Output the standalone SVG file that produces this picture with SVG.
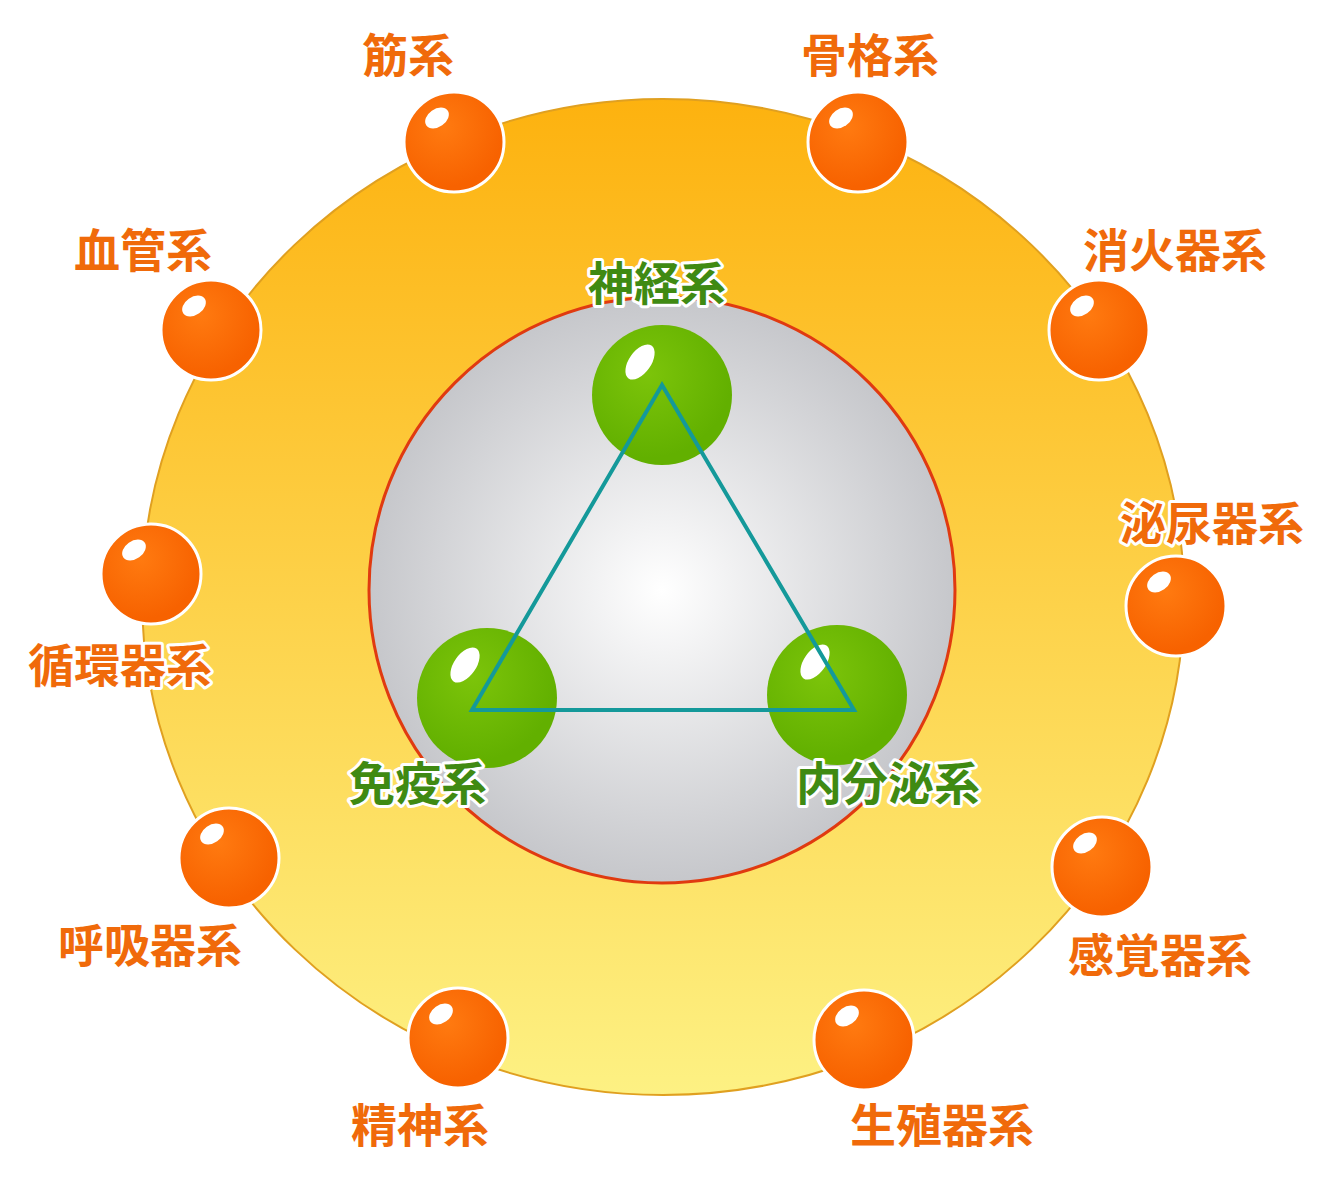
<svg xmlns="http://www.w3.org/2000/svg" width="1328" height="1184" viewBox="0 0 1328 1184">
<defs>
<linearGradient id="ring" x1="0" y1="0" x2="0" y2="1"><stop offset="0" stop-color="#fdb20f"/><stop offset="1" stop-color="#fdf183"/></linearGradient>
<radialGradient id="core" cx="0.5" cy="0.5" r="0.5"><stop offset="0" stop-color="#ffffff"/><stop offset="1" stop-color="#c6c7cb"/></radialGradient>
<radialGradient id="ob" cx="0.4" cy="0.35" r="0.6"><stop offset="0" stop-color="#ff7a10"/><stop offset="1" stop-color="#f76200"/></radialGradient>
<radialGradient id="gb" cx="0.4" cy="0.35" r="0.6"><stop offset="0" stop-color="#7cc40a"/><stop offset="1" stop-color="#62b000"/></radialGradient>
</defs>
<style>
.o{fill:url(#ob);stroke:#fff;stroke-width:3}
.g{fill:url(#gb)}
.hl{fill:#fff}
text{font-family:"Noto Sans CJK JP",sans-serif;font-weight:bold;font-size:46px;text-anchor:middle;paint-order:stroke;stroke:#fff;stroke-width:6;stroke-linejoin:round}
.to{fill:#f06a0a}
.tg{fill:#3f8a12}
</style>
<rect width="1328" height="1184" fill="#fff"/>
<ellipse cx="663" cy="597" rx="521" ry="498" fill="url(#ring)" stroke="#e0a020" stroke-width="2"/>
<circle cx="662" cy="590" r="293" fill="url(#core)" stroke="#e03a10" stroke-width="3"/>
<g id="orange-nodes">
<g id="n1"><circle class="o" cx="454" cy="142" r="50"/><ellipse class="hl" cx="437" cy="118" rx="13" ry="9" transform="rotate(-35 437 118)"/></g>
<g id="n2"><circle class="o" cx="858" cy="142" r="50"/><ellipse class="hl" cx="841" cy="118" rx="13" ry="9" transform="rotate(-35 841 118)"/></g>
<g id="n3"><circle class="o" cx="211" cy="330" r="50"/><ellipse class="hl" cx="194" cy="306" rx="13" ry="9" transform="rotate(-35 194 306)"/></g>
<g id="n4"><circle class="o" cx="1099" cy="330" r="50"/><ellipse class="hl" cx="1082" cy="306" rx="13" ry="9" transform="rotate(-35 1082 306)"/></g>
<g id="n5"><circle class="o" cx="151" cy="574" r="50"/><ellipse class="hl" cx="134" cy="550" rx="13" ry="9" transform="rotate(-35 134 550)"/></g>
<g id="n6"><circle class="o" cx="1176" cy="606" r="50"/><ellipse class="hl" cx="1159" cy="582" rx="13" ry="9" transform="rotate(-35 1159 582)"/></g>
<g id="n7"><circle class="o" cx="229" cy="858" r="50"/><ellipse class="hl" cx="212" cy="834" rx="13" ry="9" transform="rotate(-35 212 834)"/></g>
<g id="n8"><circle class="o" cx="1102" cy="867" r="50"/><ellipse class="hl" cx="1085" cy="843" rx="13" ry="9" transform="rotate(-35 1085 843)"/></g>
<g id="n9"><circle class="o" cx="458" cy="1038" r="50"/><ellipse class="hl" cx="441" cy="1014" rx="13" ry="9" transform="rotate(-35 441 1014)"/></g>
<g id="n10"><circle class="o" cx="864" cy="1040" r="50"/><ellipse class="hl" cx="847" cy="1016" rx="13" ry="9" transform="rotate(-35 847 1016)"/></g>
</g>
<g id="green-nodes">
<g id="g1"><circle class="g" cx="662" cy="395" r="70"/><ellipse class="hl" cx="640" cy="362" rx="20" ry="11" transform="rotate(-55 640 362)"/></g>
<g id="g2"><circle class="g" cx="487" cy="698" r="70"/><ellipse class="hl" cx="465" cy="665" rx="20" ry="11" transform="rotate(-55 465 665)"/></g>
<g id="g3"><circle class="g" cx="837" cy="695" r="70"/><ellipse class="hl" cx="815" cy="662" rx="20" ry="11" transform="rotate(-55 815 662)"/></g>
</g>
<g id="connectors"><polygon points="662,385 472,710 854,710" fill="none" stroke="#14999a" stroke-width="4"/></g>
<g id="labels">
<text class="to" x="408" y="72">筋系</text>
<text class="to" x="870" y="72">骨格系</text>
<text class="to" x="143" y="267">血管系</text>
<text class="to" x="1175" y="267">消火器系</text>
<text class="to" x="1212" y="540">泌尿器系</text>
<text class="to" x="120" y="682">循環器系</text>
<text class="to" x="150" y="962">呼吸器系</text>
<text class="to" x="1160" y="972">感覚器系</text>
<text class="to" x="420" y="1142">精神系</text>
<text class="to" x="942" y="1142">生殖器系</text>
<text class="tg" x="657" y="300">神経系</text>
<text class="tg" x="418" y="800">免疫系</text>
<text class="tg" x="888" y="800">内分泌系</text>
</g>
</svg>
